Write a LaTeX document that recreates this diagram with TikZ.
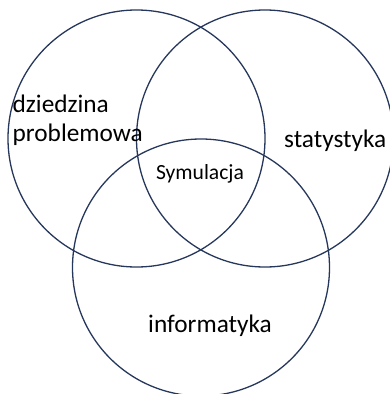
\documentclass[tikz,border=0pt]{standalone}
\usepackage{fontspec}
\setmainfont{Carlito}
\definecolor{ringcol}{RGB}{38,55,92}
\begin{document}
\begin{tikzpicture}[x=1pt,y=-1pt,
  ring/.style={circle,draw=ringcol,line width=1.3pt,minimum size=257pt,inner sep=0pt},
  bigtxt/.style={inner sep=0pt,font=\fontsize{25.3}{30}\selectfont,text=black},
  smalltxt/.style={inner sep=0pt,font=\fontsize{21.6}{24}\selectfont,text=black}]
\useasboundingbox (0,0) rectangle (389,394);
\node[ring] (L) at (136.5,138.5) {};
\node[ring] (R) at (265,138.5) {};
\node[ring] (B) at (201,267.5) {};
\node[bigtxt,anchor=base west] (d1) at (12.5,112) {dziedzina};
\node[bigtxt,anchor=base west] (d2) at (12.5,141.5) {problemowa};
\node[bigtxt,anchor=base west] (st) at (284,147) {statystyka};
\node[smalltxt,anchor=base] (sy) at (200,179) {Symulacja};
\node[bigtxt,anchor=base] (inf) at (210,332) {informatyka};
\end{tikzpicture}
\end{document}
